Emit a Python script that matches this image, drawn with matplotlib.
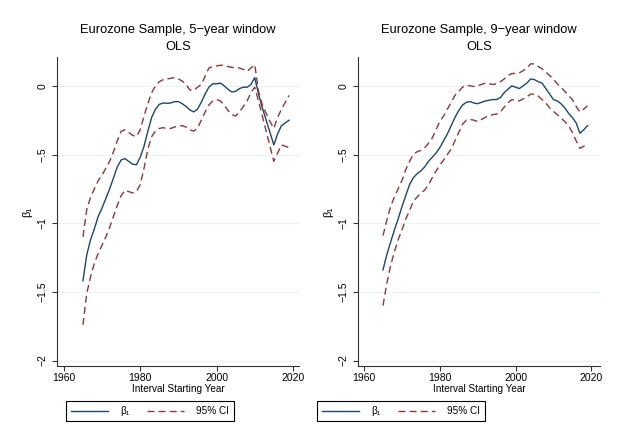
import numpy as np
import matplotlib
matplotlib.use("Agg")
import matplotlib.pyplot as plt
from matplotlib.lines import Line2D

plt.rcParams['font.family'] = ['Liberation Sans', 'DejaVu Sans']

years = np.arange(1965, 2020)

# 5-year window
beta5 = [-1.42, -1.23, -1.12, -1.04, -0.95, -0.89, -0.82, -0.75, -0.67, -0.59,
         -0.54, -0.53, -0.55, -0.57, -0.575, -0.52, -0.44, -0.33, -0.23, -0.17,
         -0.135, -0.125, -0.127, -0.125, -0.115, -0.115, -0.13, -0.15, -0.175, -0.19,
         -0.17, -0.12, -0.06, -0.01, 0.015, 0.015, 0.02, 0.0, -0.025, -0.045,
         -0.04, -0.02, -0.01, -0.01, 0.01, 0.06, -0.06, -0.16, -0.25, -0.34,
         -0.43, -0.35, -0.29, -0.27, -0.25]
hi5 = [-1.10, -0.90, -0.81, -0.75, -0.69, -0.65, -0.60, -0.55, -0.48, -0.40,
       -0.33, -0.32, -0.34, -0.36, -0.37, -0.32, -0.22, -0.13, -0.05, 0.0,
       0.03, 0.045, 0.05, 0.055, 0.06, 0.05, 0.035, 0.01, -0.03, -0.035,
       -0.01, 0.01, 0.07, 0.13, 0.14, 0.145, 0.15, 0.15, 0.14, 0.135,
       0.13, 0.13, 0.12, 0.105, 0.13, 0.155, -0.04, -0.14, -0.20, -0.26,
       -0.31, -0.23, -0.17, -0.12, -0.07]
lo5 = [-1.74, -1.51, -1.39, -1.29, -1.22, -1.16, -1.10, -1.03, -0.95, -0.87,
       -0.80, -0.76, -0.77, -0.78, -0.77, -0.72, -0.60, -0.46, -0.37, -0.33,
       -0.31, -0.305, -0.31, -0.31, -0.30, -0.29, -0.29, -0.30, -0.32, -0.33,
       -0.31, -0.25, -0.19, -0.14, -0.11, -0.10, -0.11, -0.14, -0.18, -0.21,
       -0.22, -0.19, -0.15, -0.11, -0.05, -0.01, -0.11, -0.22, -0.33, -0.44,
       -0.55, -0.49, -0.43, -0.44, -0.45]

# 9-year window
beta9 = [-1.34, -1.23, -1.14, -1.05, -0.97, -0.88, -0.80, -0.72, -0.67, -0.64,
         -0.62, -0.59, -0.55, -0.52, -0.49, -0.45, -0.40, -0.35, -0.29, -0.23,
         -0.18, -0.14, -0.12, -0.115, -0.125, -0.13, -0.12, -0.11, -0.105, -0.10,
         -0.10, -0.085, -0.05, -0.025, 0.0, -0.01, -0.02, 0.0, 0.02, 0.05,
         0.045, 0.03, 0.02, -0.02, -0.06, -0.10, -0.11, -0.13, -0.16, -0.20,
         -0.23, -0.27, -0.345, -0.32, -0.29]
hi9 = [-1.09, -0.98, -0.88, -0.81, -0.75, -0.69, -0.61, -0.55, -0.50, -0.48,
       -0.47, -0.45, -0.42, -0.38, -0.32, -0.26, -0.22, -0.17, -0.12, -0.07,
       -0.04, -0.01, 0.005, 0.0, -0.005, 0.0, 0.01, 0.02, 0.015, 0.01,
       0.015, 0.03, 0.05, 0.075, 0.09, 0.09, 0.095, 0.11, 0.13, 0.16,
       0.16, 0.14, 0.125, 0.10, 0.075, 0.05, 0.015, -0.01, -0.04, -0.07,
       -0.10, -0.15, -0.19, -0.17, -0.145]
lo9 = [-1.60, -1.44, -1.31, -1.21, -1.12, -1.05, -0.97, -0.91, -0.84, -0.81,
       -0.78, -0.76, -0.72, -0.67, -0.62, -0.58, -0.54, -0.50, -0.46, -0.40,
       -0.34, -0.28, -0.25, -0.245, -0.25, -0.26, -0.245, -0.23, -0.215, -0.21,
       -0.205, -0.19, -0.155, -0.125, -0.10, -0.105, -0.11, -0.095, -0.08, -0.06,
       -0.06, -0.075, -0.10, -0.125, -0.16, -0.185, -0.21, -0.235, -0.26, -0.29,
       -0.34, -0.40, -0.455, -0.44, -0.43]

panels = [
    ("Eurozone Sample, 5\u2212year window", beta5, hi5, lo5),
    ("Eurozone Sample, 9\u2212year window", beta9, hi9, lo9),
]

yticks = [0, -0.5, -1, -1.5, -2]
yticklabels = ["0", "\u2212.5", "\u22121", "\u22121.5", "\u22122"]
xticks = [1960, 1980, 2000, 2020]

blue = "#1a476f"
red = "#90353b"

W, H = 620, 433
fig = plt.figure(figsize=(6.2, 4.33), dpi=100)

# pixel layout: (left, right) of each plot region, and legend centre
lefts = [(57, 299, 150), (358, 600, 401)]
top, bottom = 57, 366

for (title, b, hi, lo), (x0, x1, lx) in zip(panels, lefts):
    ax = fig.add_axes([x0 / W, 1 - bottom / H, (x1 - x0) / W, (bottom - top) / H])
    ax.plot(years, b, color=blue, lw=1.0)
    ax.plot(years, hi, color=red, lw=1.0, dashes=(5, 3))
    ax.plot(years, lo, color=red, lw=1.0, dashes=(5, 3))

    if x0 < 300:
        ax.set_xlim(1958.2, 2021.6)
    else:
        ax.set_xlim(1958.4, 2022.3)
    ax.set_ylim(-2.04, 0.21)

    ax.set_yticks(yticks)
    ax.set_yticklabels(yticklabels, rotation=90, va='center', fontsize=7.5)
    ax.set_xticks(xticks)
    ax.set_xticklabels([str(t) for t in xticks], fontsize=7.5)
    ax.tick_params(direction='out', length=3.6, width=0.8, color='#333333')
    ax.tick_params(axis='x', pad=1.5)
    ax.tick_params(axis='y', pad=3)
    for t in yticks:
        ax.axhline(t, color='#eaf2f3', lw=0.9, zorder=0)

    for s in ['top', 'right']:
        ax.spines[s].set_visible(False)
    for s in ['left', 'bottom']:
        ax.spines[s].set_color('#333333')
        ax.spines[s].set_linewidth(0.8)

    ax.set_xlabel("Interval Starting Year", fontsize=7.2, labelpad=1)
    ax.set_ylabel("\u03b2\u2081", fontsize=8, labelpad=4)

    cx = (x0 + x1) / 2 / W
    fig.text(cx, 1 - 30 / H, title, ha='center', va='center', fontsize=9.3)
    fig.text(cx, 1 - 47 / H, "OLS", ha='center', va='center', fontsize=9.3)

    handles = [Line2D([], [], color=blue, lw=1.0),
               Line2D([], [], color=red, lw=1.0, dashes=(5, 3))]
    leg = ax.legend(handles, ["\u03b2\u2081", "95% CI"], ncol=2, loc='center',
                    bbox_to_anchor=(lx / W, 1 - 411 / H), bbox_transform=fig.transFigure,
                    fontsize=7.2, handlelength=3.7, columnspacing=1.8, handletextpad=1.2,
                    borderpad=0.5, fancybox=False, framealpha=1)
    leg.get_frame().set_edgecolor('black')
    leg.get_frame().set_linewidth(0.8)

fig.savefig("out.png", dpi=100)
